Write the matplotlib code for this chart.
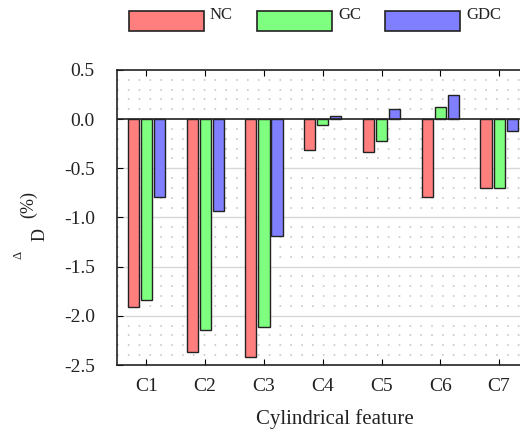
import matplotlib
matplotlib.use("Agg")
import matplotlib.pyplot as plt
import numpy as np
from matplotlib.patches import Rectangle

plt.rcParams['font.family'] = ['Liberation Serif', 'DejaVu Serif']

categories = ['C1', 'C2', 'C3', 'C4', 'C5', 'C6', 'C7']
nc = [-1.915, -2.37, -2.42, -0.315, -0.33, -0.79, -0.705]
gc = [-1.84, -2.14, -2.11, -0.058, -0.226, 0.12, -0.705]
gdc = [-0.795, -0.93, -1.19, 0.028, 0.107, 0.244, -0.116]
series_names = ['NC', 'GC', 'GDC']
colors = ['#ff7f7f', '#7fff7f', '#7f7fff']
yticks = [0.5, 0.0, -0.5, -1.0, -1.5, -2.0, -2.5]

fig = plt.figure(figsize=(5.2, 4.37), dpi=100)
# axes extends beyond right figure edge as in reference
ax = fig.add_axes([117/520, (437-365)/437, 435/520, 295/437])

x = np.arange(1, len(categories) + 1)
w = 0.19
off = 0.222
for i, (vals, c, name) in enumerate(zip([nc, gc, gdc], colors, series_names)):
    ax.bar(x + (i - 1) * off, vals, width=w, color=c, edgecolor='#222222',
           linewidth=1.0, label=name, zorder=3)

ax.set_xlim(0.5, 7.9)
ax.set_ylim(-2.5, 0.5)
ax.set_xticks(x)
ax.set_xticklabels(categories, fontsize=14, color='#222222')
ax.set_yticks(yticks)
ax.set_yticklabels([f'{v:.1f}' for v in yticks], fontsize=14, color='#222222')
ax.tick_params(axis='x', direction='in', top=True, length=4, pad=9.5)
ax.tick_params(axis='y', direction='in', length=4, pad=16)

# minor dotted grid
for yv in np.arange(-2.4, 0.5, 0.1):
    if abs(round(yv * 10) % 5) != 0:
        ax.axhline(yv, color='#c8c8c8', linestyle=(0, (1, 5.5)), linewidth=1.2, zorder=1)
for yv in [-0.5, -1.0, -1.5, -2.0]:
    ax.axhline(yv, color='#d8d8d8', linewidth=1.0, zorder=1)
ax.axhline(0, color='#222222', linewidth=1.2, zorder=4)

for s in ax.spines.values():
    s.set_color('#222222')
    s.set_linewidth(1.2)

ax.set_xlabel('Cylindrical feature', fontsize=15, labelpad=10, color='#222222')

# y label pieces
fig.text(18/520, 1 - 255/437, 'Δ', rotation=90, fontsize=9, ha='center', va='center', color='#222222')
fig.text(40/520, 1 - 234/437, 'D', rotation=90, fontsize=13, ha='center', va='center', color='#222222')
fig.text(29/520, 1 - 205/437, '(%)', rotation=90, fontsize=13, ha='center', va='center', color='#222222')

# legend
leg_x = [129, 257, 385]
for lx, c, name in zip(leg_x, colors, series_names):
    fig.patches.append(Rectangle((lx/520, 1 - 31/437), 75/520, 20/437,
                                 transform=fig.transFigure, facecolor=c,
                                 edgecolor='#222222', linewidth=1.2))
    fig.text((lx + 81)/520, 1 - 15/437, name, fontsize=12, ha='left', va='center', color='#222222')

fig.savefig('out.png', dpi=100)
